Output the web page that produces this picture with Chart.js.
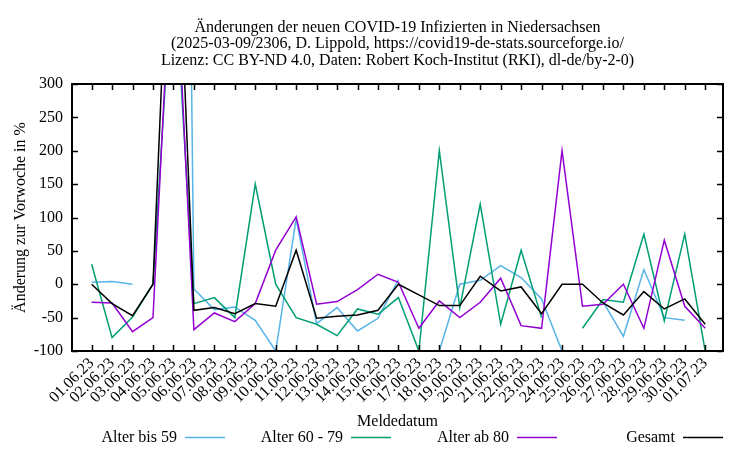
<!DOCTYPE html>
<html>
<head>
<meta charset="utf-8">
<script src="https://cdn.jsdelivr.net/npm/chart.js@4.4.1/dist/chart.umd.min.js"></script>
<style>
  html, body { margin: 0; padding: 0; background: #fff; }
</style>
</head>
<body>
<canvas id="grafico" width="750" height="450"></canvas>
<script>
const FUENTE = '"Liberation Serif", "DejaVu Serif", serif';

// Datos (null = sin valor)
const fechas = [
    '01.06.23', '02.06.23', '03.06.23', '04.06.23', '05.06.23', '06.06.23', '07.06.23', '08.06.23',
    '09.06.23', '10.06.23', '11.06.23', '12.06.23', '13.06.23', '14.06.23', '15.06.23', '16.06.23',
    '17.06.23', '18.06.23', '19.06.23', '20.06.23', '21.06.23', '22.06.23', '23.06.23', '24.06.23',
    '25.06.23', '26.06.23', '27.06.23', '28.06.23', '29.06.23', '30.06.23', '01.07.23'
];
const alterBis59 = [3, 4, 0, null, 2700, -7, -38, -34, -54, -100, 98, -59, -35, -70, -51, 7,
    null, -100, 0, 6, 28, 10, -22, -100, null, -26, -78, 22, -50, -54, null];
const alter60bis79 = [30, -80, -49, 0, 500, -29, -20, -50, 150, 0, -50, -60, -77, -37, -45, -20,
    -100, 200, -35, 120, -60, 51, -50, null, -66, -23, -27, 75, -55, 75, -100];
const alterAb80 = [-27, -28, -71, -50, 560, -68, -43, -56, -29, 51, 101, -30, -26, -8, 15, 3,
    -66, -25, -50, -27, 9, -62, -66, 200, -33, -30, 0, -66, 66, -33, -66];
const gesamt = [0, -29, -47, 0, 720, -39, -35, -44, -29, -33, 51, -51, -48, -46, -39, 0,
    -16, -32, -32, 12, -10, -4, -44, 0, 0, -28, -46, -11, -37, -22, -60];
const ticksY = [-100, -50, 0, 50, 100, 150, 200, 250, 300];

const lineasTitulo = [
    'Änderungen der neuen COVID-19 Infizierten in Niedersachsen',
    '(2025-03-09/2306, D. Lippold, https://covid19-de-stats.sourceforge.io/',
    'Lizenz: CC BY-ND 4.0, Daten: Robert Koch-Institut (RKI), dl-de/by-2-0)'
];

const series = [
    { label: 'Alter bis 59', valores: alterBis59, color: '#56b4e9' },
    { label: 'Alter 60 - 79', valores: alter60bis79, color: '#009e73' },
    { label: 'Alter ab 80', valores: alterAb80, color: '#9400d3' },
    { label: 'Gesamt', valores: gesamt, color: '#000000' }
];

const aPuntos = (valores) => valores.map((v, i) => ({ x: i, y: v }));

// Marco con marcas hacia dentro (estilo gnuplot)
const marco = {
    id: 'marco',
    afterDatasetsDraw(chart) {
        const { ctx, chartArea: a, scales } = chart;
        const largo = 6;
        ctx.save();
        ctx.strokeStyle = '#000';
        ctx.lineWidth = 1.5;
        ctx.beginPath();
        fechas.forEach((_, i) => {
            const x = Math.round(scales.x.getPixelForValue(i)) + 0.5;
            ctx.moveTo(x, a.bottom); ctx.lineTo(x, a.bottom - largo);
            ctx.moveTo(x, a.top); ctx.lineTo(x, a.top + largo);
        });
        ticksY.forEach(v => {
            const y = Math.round(scales.y.getPixelForValue(v)) + 0.5;
            ctx.moveTo(a.left, y); ctx.lineTo(a.left + largo, y);
            ctx.moveTo(a.right, y); ctx.lineTo(a.right - largo, y);
        });
        ctx.stroke();
        ctx.lineWidth = 2;
        ctx.strokeRect(a.left, a.top, a.right - a.left, a.bottom - a.top);
        ctx.restore();
    }
};

const titulo = {
    id: 'titulo',
    afterDraw(chart) {
        const { ctx, chartArea: a } = chart;
        const cx = (a.left + a.right) / 2;
        ctx.save();
        ctx.fillStyle = '#000';
        ctx.font = '16px ' + FUENTE;
        ctx.textAlign = 'center';
        ctx.textBaseline = 'alphabetic';
        lineasTitulo.forEach((t, i) => ctx.fillText(t, cx, 31.5 + i * 16.5));
        ctx.restore();
    }
};

// Leyenda: texto a la izquierda, muestra de línea a la derecha
const leyenda = {
    id: 'leyenda',
    afterDraw(chart) {
        const { ctx } = chart;
        ctx.save();
        ctx.font = '16px ' + FUENTE;
        ctx.textAlign = 'right';
        ctx.textBaseline = 'middle';
        chart.data.datasets.forEach((ds, i) => {
            const xTexto = 177 + i * 166;
            const y = 437;
            ctx.fillStyle = '#000';
            ctx.fillText(ds.label, xTexto, y + 1);
            ctx.strokeStyle = ds.borderColor;
            ctx.lineWidth = 1.5;
            ctx.beginPath();
            ctx.moveTo(xTexto + 8, y + 0.5);
            ctx.lineTo(xTexto + 48, y + 0.5);
            ctx.stroke();
        });
        ctx.restore();
    }
};

new Chart(document.getElementById('grafico').getContext('2d'), {
    type: 'line',
    data: {
        datasets: series.map((s, idx) => ({
            label: s.label,
            data: aPuntos(s.valores),
            borderColor: s.color,
            backgroundColor: s.color,
            borderWidth: 1.5,
            pointRadius: 0,
            tension: 0,
            spanGaps: false,
            order: series.length - idx
        }))
    },
    options: {
        responsive: false,
        animation: false,
        layout: { padding: { top: 84, right: 27, bottom: 0, left: 0 } },
        plugins: {
            legend: { display: false },
            title: { display: false },
            tooltip: { enabled: false }
        },
        scales: {
            x: {
                type: 'linear',
                min: -0.96,
                max: 30.87,
                afterBuildTicks: (scale) => { scale.ticks = fechas.map((_, i) => ({ value: i })); },
                afterFit: (scale) => { scale.height = 99; },
                ticks: {
                    autoSkip: false,
                    maxRotation: 45,
                    minRotation: 45,
                    padding: 3,
                    color: '#000',
                    font: { family: FUENTE, size: 16 },
                    callback: (v) => fechas[v] ?? ''
                },
                grid: { display: false, drawTicks: false },
                border: { display: false },
                title: {
                    display: true,
                    text: 'Meldedatum',
                    color: '#000',
                    font: { family: FUENTE, size: 16 },
                    padding: { top: 0, bottom: 19 }
                }
            },
            y: {
                min: -100,
                max: 300,
                afterBuildTicks: (scale) => { scale.ticks = ticksY.map(v => ({ value: v })); },
                afterFit: (scale) => { scale.width = 72; },
                ticks: {
                    padding: 9,
                    color: '#000',
                    font: { family: FUENTE, size: 16 }
                },
                grid: { display: false, drawTicks: false },
                border: { display: false },
                title: {
                    display: true,
                    text: 'Änderung zur Vorwoche in %',
                    color: '#000',
                    font: { family: FUENTE, size: 16 },
                    padding: { top: 11, bottom: 0 }
                }
            }
        }
    },
    plugins: [marco, titulo, leyenda]
});
</script>
</body>
</html>
